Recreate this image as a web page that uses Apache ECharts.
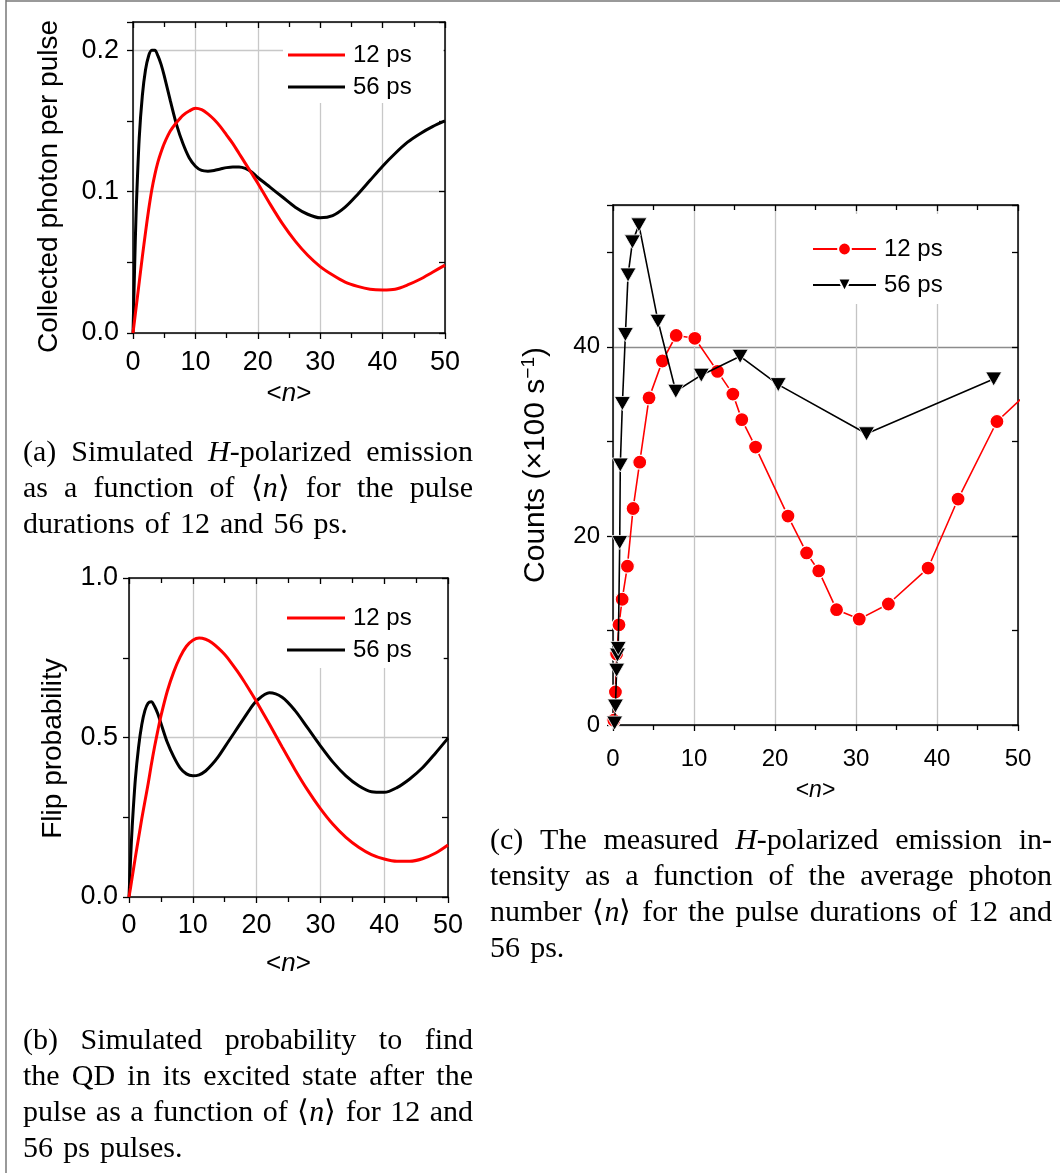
<!DOCTYPE html>
<html>
<head>
<meta charset="utf-8">
<script src="https://cdn.jsdelivr.net/npm/echarts@6/dist/echarts.min.js"></script>
<style>
html,body{margin:0;padding:0;background:#fff;}
#chart{width:1060px;height:1173px;}
</style>
</head>
<body>
<div id="chart"></div>
<script>
// ---------------- DATA ----------------
// common sampling of <n> for the simulated curves (panels a, b)
const simN = [0,0.25,0.5,1,1.5,2,2.5,3,3.5,4,4.5,5,6,7,8,9,10,11,12,13,14,15,16,17,18,19,20,22,24,26,28,30,32,34,36,38,40,42,44,46,48,50];

// (a) collected photon per pulse
const photon12 = [0,0.009,0.018,0.036,0.054,0.071,0.087,0.101,0.112,0.121,0.128,0.134,0.143,0.149,0.154,0.157,0.159,0.158,0.155,0.151,0.146,0.140,0.134,0.127,0.120,0.113,0.106,0.091,0.077,0.065,0.055,0.047,0.041,0.036,0.033,0.031,0.0305,0.031,0.034,0.038,0.043,0.048];
const photon56 = [0,0.045,0.085,0.138,0.168,0.186,0.196,0.200,0.200,0.196,0.190,0.182,0.164,0.147,0.134,0.124,0.118,0.115,0.1145,0.115,0.116,0.117,0.1175,0.1175,0.1165,0.114,0.110,0.103,0.096,0.089,0.084,0.0815,0.083,0.089,0.098,0.108,0.118,0.127,0.135,0.141,0.146,0.150];

// (b) flip probability
const flip12 = [0,0.03,0.062,0.125,0.185,0.245,0.30,0.355,0.415,0.47,0.52,0.567,0.645,0.705,0.752,0.786,0.805,0.812,0.808,0.797,0.78,0.76,0.735,0.707,0.677,0.645,0.612,0.542,0.47,0.40,0.335,0.277,0.227,0.187,0.156,0.133,0.119,0.112,0.112,0.12,0.137,0.163];
const flip56 = [0,0.12,0.22,0.37,0.47,0.54,0.585,0.608,0.612,0.598,0.575,0.545,0.485,0.44,0.405,0.386,0.38,0.383,0.395,0.415,0.44,0.47,0.50,0.53,0.56,0.59,0.615,0.64,0.626,0.585,0.53,0.474,0.422,0.38,0.349,0.33,0.328,0.343,0.37,0.405,0.45,0.498];

// (c) measured counts (x100 s^-1)
const meas12N = [0.1,0.3,0.45,0.74,1.13,1.78,2.48,3.3,4.45,6.1,7.8,10.1,12.9,14.8,15.9,17.6,21.6,23.9,25.4,27.6,30.4,34.0,38.9,42.6,47.4,53.0];
const meas12C = [0.5,3.5,7.5,10.6,13.3,16.8,22.9,27.8,34.6,38.5,41.2,40.9,37.4,35.0,32.3,29.4,22.1,18.2,16.3,12.2,11.2,12.8,16.6,23.9,32.1,36.6];
const meas56N = [0.2,0.3,0.45,0.55,0.65,0.83,0.9,1.16,1.53,1.86,2.4,3.2,5.56,7.75,10.9,15.7,20.4,31.3,47.0];
const meas56C = [0.2,2.0,5.8,7.4,8.1,19.3,27.5,34.0,41.3,47.6,51.1,52.9,42.7,35.3,37.0,39.0,36.0,30.8,36.6];

const legendNames = ['12 ps','56 ps'];
const yTitleA = 'Collected photon per pulse';
const yTitleB = 'Flip probability';
const yTitleC = 'Counts (×100 s';
const yTitleCsup = '−1';

const captionA = ['(a) Simulated *H*-polarized emission','as a function of ⟨*n*⟩ for the pulse','durations of 12 and 56 ps.'];
const captionB = ['(b) Simulated probability to find','the QD in its excited state after the','pulse as a function of ⟨*n*⟩ for 12 and','56 ps pulses.'];
const captionC = ['(c) The measured *H*-polarized emission in-','tensity as a function of the average photon','number ⟨*n*⟩ for the pulse durations of 12 and','56 ps.'];

// ---------------- STYLE / BUILD ----------------
const SANS = '"Liberation Sans", Arial, Helvetica, sans-serif';
const SERIF = '"Liberation Serif", "Times New Roman", serif';
const RED = '#ff0000', BLACK = '#000000';
const zip = (a, b) => a.map((v, i) => [v, b[i]]);
const lineSt = {color: '#000', width: 1.5};
const tickSt = {color: '#000', width: 1.3};

function xAxes(grid, fs, margin, nameGap, splitColor) {
  const base = {gridIndex: grid, type: 'value', min: 0, max: 50, interval: 10,
    axisLine: {show: true, onZero: false, lineStyle: lineSt},
    minorTick: {show: true, splitNumber: 2, length: 5, lineStyle: tickSt},
    minorSplitLine: {show: false}};
  return [
    Object.assign({}, base, {position: 'bottom',
      axisTick: {show: true, inside: false, length: 6, lineStyle: tickSt},
      axisLabel: {show: true, margin: margin, fontSize: fs, fontFamily: SANS, color: '#000'},
      splitLine: {show: true, lineStyle: {color: splitColor, width: 1.3}},
      name: '{a|<}{i|n}{a|>}', nameLocation: 'middle', nameGap: nameGap,
      nameTextStyle: {rich: {a: {fontSize: fs - 1, fontFamily: SANS, color: '#000'}, i: {fontSize: fs - 1, fontFamily: SANS, fontStyle: 'italic', color: '#000'}}}}),
    Object.assign({}, base, {position: 'top',
      axisTick: {show: true, inside: true, length: 6, lineStyle: tickSt},
      axisLabel: {show: false}, splitLine: {show: false}})
  ];
}

function yAxes(grid, max, tickStep, labelStep, dec, fs, margin, name, nameGap, nameStyle, splitColor) {
  const isLab = v => Math.abs(v / labelStep - Math.round(v / labelStep)) < 1e-6;
  const common = {gridIndex: grid, type: 'value', min: 0, max: max, interval: tickStep,
    axisLine: {show: true, onZero: false, lineStyle: lineSt}, splitLine: {show: false}};
  return [
    Object.assign({}, common, {position: 'left',
      axisTick: {show: true, inside: false, length: 6, lineStyle: tickSt},
      axisLabel: {show: true, margin: margin, fontSize: fs, fontFamily: SANS, color: '#000',
        formatter: v => isLab(v) ? v.toFixed(dec) : ''},
      name: name, nameLocation: 'middle', nameGap: nameGap, nameRotate: 90, nameTextStyle: nameStyle}),
    Object.assign({}, common, {position: 'right',
      axisTick: {show: true, inside: true, length: 6, lineStyle: tickSt}, axisLabel: {show: false}}),
    {gridIndex: grid, type: 'value', min: 0, max: max, interval: labelStep, position: 'left',
      axisLine: {show: false, onZero: false}, axisTick: {show: false}, axisLabel: {show: false},
      splitLine: {show: true, lineStyle: {color: splitColor, width: 1.3}}}
  ];
}

// caption layout (justified lines, last line ragged)
const mctx = document.createElement('canvas').getContext('2d');
const CAP_FS = 30;
function capFont(it) { return (it ? 'italic ' : '') + CAP_FS + 'px ' + SERIF; }
function parseWord(w) {
  const segs = []; const re = /\*([^*]+)\*|([^*]+)/g; let m;
  while ((m = re.exec(w))) segs.push(m[1] !== undefined ? {t: m[1], it: true} : {t: m[2], it: false});
  return segs;
}
function segW(g) { mctx.font = capFont(g.it); return mctx.measureText(g.t).width; }
function caption(lines, x0, x1, base0, lh) {
  const out = [];
  mctx.font = capFont(false);
  const sp = mctx.measureText(' ').width;
  lines.forEach((line, li) => {
    const words = line.split(' ').map(parseWord);
    const widths = words.map(s => s.reduce((a, g) => a + segW(g), 0));
    const total = widths.reduce((a, b) => a + b, 0);
    const last = li === lines.length - 1;
    const gap = last ? sp * 1.35 : (x1 - x0 - total) / (words.length - 1);
    let x = x0; const y = base0 + li * lh;
    words.forEach(segs => {
      segs.forEach(g => {
        out.push({type: 'text', x: x, y: y, silent: true,
          style: {text: g.t, font: capFont(g.it), fill: '#000', textVerticalAlign: 'middle'}});
        x += segW(g);
      });
      x += gap;
    });
  });
  return out;
}

const chart = echarts.init(document.getElementById('chart'), null, {renderer: 'canvas'});

const legendBase = {orient: 'vertical', selectedMode: false, backgroundColor: '#ffffff', borderWidth: 0,
  itemGap: 4, textStyle: {fontSize: 24, fontFamily: SANS, color: '#000', lineHeight: 28, padding: [0, 0, 0, 3]},
  formatter: n => n.split(':')[1]};

const option = {
  animation: false,
  backgroundColor: '#ffffff',
  grid: [
    {left: 133, top: 22, width: 312, height: 311, outerBoundsMode: 'none', containLabel: false},
    {left: 129, top: 578, width: 319, height: 319, outerBoundsMode: 'none', containLabel: false},
    {left: 613, top: 205, width: 405, height: 520, outerBoundsMode: 'none', containLabel: false}
  ],
  xAxis: [].concat(
    xAxes(0, 27, 16, 48, '#c8c8c8'),
    xAxes(1, 27, 15, 54, '#c8c8c8'),
    xAxes(2, 24, 22, 54, '#c4c4c4')
  ),
  yAxis: [].concat(
    yAxes(0, 0.22, 0.05, 0.1, 1, 27, 14, yTitleA, 70, {fontSize: 28, fontFamily: SANS, color: '#000', padding: [0, 18, 0, 0]}, '#c8c8c8'),
    yAxes(1, 1.0, 0.25, 0.5, 1, 27, 11, yTitleB, 62, {fontSize: 28, fontFamily: SANS, color: '#000', padding: [0, 22, 0, 0]}, '#c8c8c8'),
    yAxes(2, 55, 10, 20, 0, 24, 13, '{t|' + yTitleC + '}{s|' + yTitleCsup + '}{t|)}', 60,
      {rich: {t: {fontSize: 30, fontFamily: SANS, color: '#000', lineHeight: 34},
              s: {fontSize: 19, fontFamily: SANS, color: '#000', lineHeight: 19, verticalAlign: 'top'}}}, '#8c8c8c')
  ),
  legend: [
    Object.assign({}, legendBase, {left: 283, top: 28, padding: [13, 32, 2, 5], icon: 'rect', itemWidth: 57, itemHeight: 3,
      data: ['a:' + legendNames[0], 'a:' + legendNames[1]]}),
    Object.assign({}, legendBase, {left: 282, top: 584, padding: [20, 32, 4, 5], icon: 'rect', itemWidth: 58, itemHeight: 3,
      data: ['b:' + legendNames[0], 'b:' + legendNames[1]]}),
    Object.assign({}, legendBase, {left: 807, top: 214, padding: [21, 40, 5, 5], itemWidth: 63, itemHeight: 16, itemGap: 8,
      data: ['c:' + legendNames[0], 'c:' + legendNames[1]]})
  ],
  series: [
    {type: 'line', name: 'a:' + legendNames[1], xAxisIndex: 0, yAxisIndex: 0, data: zip(simN, photon56), smooth: 0.3,
      symbol: 'none', lineStyle: {color: BLACK, width: 3}, itemStyle: {color: BLACK}, z: 3},
    {type: 'line', name: 'a:' + legendNames[0], xAxisIndex: 0, yAxisIndex: 0, data: zip(simN, photon12), smooth: 0.3,
      symbol: 'none', lineStyle: {color: RED, width: 3}, itemStyle: {color: RED}, z: 3},
    {type: 'line', name: 'b:' + legendNames[1], xAxisIndex: 2, yAxisIndex: 3, data: zip(simN, flip56), smooth: 0.3,
      symbol: 'none', lineStyle: {color: BLACK, width: 3}, itemStyle: {color: BLACK}, z: 3},
    {type: 'line', name: 'b:' + legendNames[0], xAxisIndex: 2, yAxisIndex: 3, data: zip(simN, flip12), smooth: 0.3,
      symbol: 'none', lineStyle: {color: RED, width: 3}, itemStyle: {color: RED}, z: 3},
    {type: 'line', name: 'c:' + legendNames[0], xAxisIndex: 4, yAxisIndex: 6, data: zip(meas12N, meas12C),
      symbol: 'circle', symbolSize: 14, showSymbol: true,
      lineStyle: {color: RED, width: 1.6}, itemStyle: {color: RED, borderColor: '#fff', borderWidth: 1.2}, z: 3},
    {type: 'line', name: 'c:' + legendNames[1], xAxisIndex: 4, yAxisIndex: 6, data: zip(meas56N, meas56C),
      symbol: 'triangle', symbolRotate: 180, symbolSize: [16, 14], showSymbol: true,
      lineStyle: {color: BLACK, width: 1.6}, itemStyle: {color: BLACK, borderColor: '#fff', borderWidth: 0.8}, z: 4}
  ],
  graphic: [].concat(
    [{type: 'line', silent: true, shape: {x1: 6, y1: 0, x2: 6, y2: 1173}, style: {stroke: '#777', lineWidth: 1.5}},
     {type: 'line', silent: true, shape: {x1: 6, y1: 1, x2: 1060, y2: 1}, style: {stroke: '#777', lineWidth: 1.5}}],
    caption(captionA, 23, 473, 453, 36),
    caption(captionB, 23, 473, 1041, 36),
    caption(captionC, 490, 1052, 841, 36)
  )
};
chart.setOption(option);
</script>
</body>
</html>
